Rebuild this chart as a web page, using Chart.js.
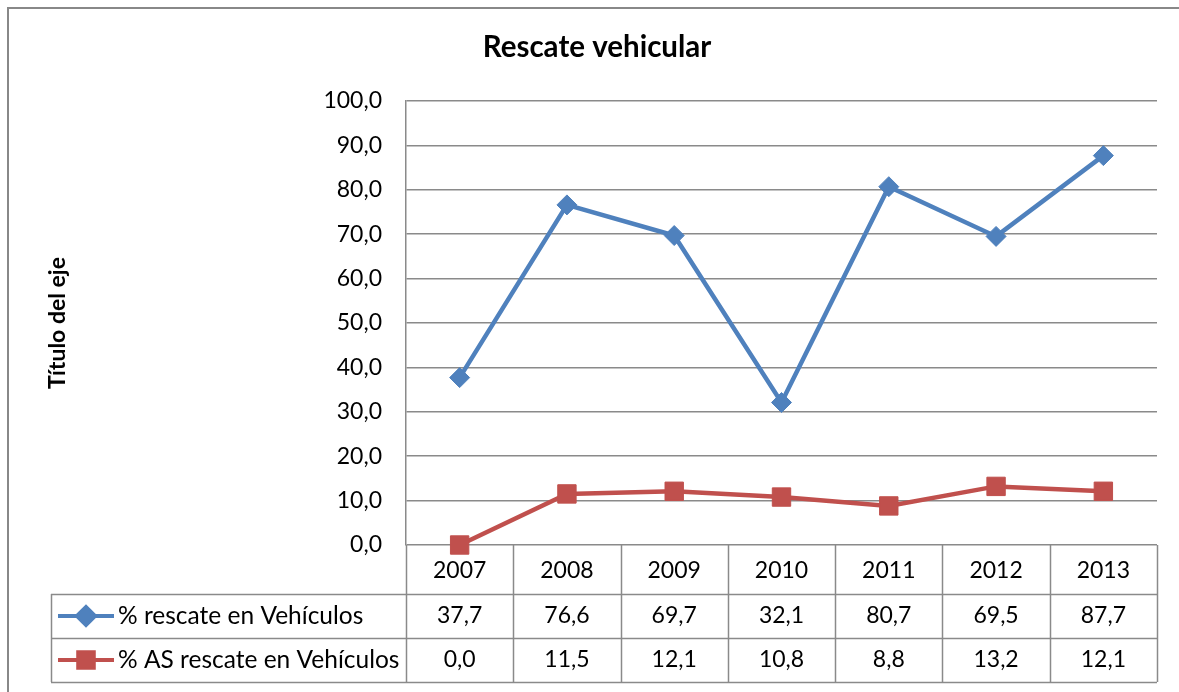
<!DOCTYPE html>
<html lang="es">

<head>
    <meta charset="UTF-8">
    <title>Rescate vehicular</title>
    <script src="https://cdn.jsdelivr.net/npm/chart.js"></script>
    <style>
        body { margin: 0; background: #fff; }
    </style>
</head>

<body>
    <canvas id="myChart" width="1179" height="692"></canvas>
    <script>
        const years = ['2007', '2008', '2009', '2010', '2011', '2012', '2013'];
        const rescate = [37.7, 76.6, 69.7, 32.1, 80.7, 69.5, 87.7];
        const rescateAS = [0.0, 11.5, 12.1, 10.8, 8.8, 13.2, 12.1];
        const seriesNames = ['% rescate en Vehículos', '% AS rescate en Vehículos'];

        const gridColor = '#8a8a8a';
        const fontFamily = 'Lato, "Open Sans", sans-serif';

        function fmt(v) {
            return v.toFixed(1).replace('.', ',');
        }

        // frame + data table under the plot
        const tablePlugin = {
            id: 'dataTable',
            afterDraw(chart) {
                const ctx = chart.ctx;
                const x = chart.scales.x;
                const area = chart.chartArea;
                const colW = (area.right - area.left) / years.length;
                const rows = [area.bottom, 594, 638, 682];
                const tableLeft = 51;

                ctx.save();
                // outer chart frame (cut off at right and bottom)
                ctx.strokeStyle = '#888';
                ctx.lineWidth = 2;
                ctx.beginPath();
                ctx.moveTo(8, chart.height);
                ctx.lineTo(8, 8);
                ctx.lineTo(chart.width, 8);
                ctx.stroke();

                ctx.strokeStyle = gridColor;
                ctx.lineWidth = 1.5;
                ctx.beginPath();
                // column lines
                for (let i = 0; i <= years.length; i++) {
                    const px = Math.round(area.left + i * colW) + 0.5;
                    ctx.moveTo(px, rows[0]);
                    ctx.lineTo(px, rows[3]);
                }
                // row lines
                for (let r = 1; r < rows.length; r++) {
                    ctx.moveTo(tableLeft, rows[r] + 0.5);
                    ctx.lineTo(area.right, rows[r] + 0.5);
                }
                ctx.moveTo(tableLeft + 0.5, rows[1]);
                ctx.lineTo(tableLeft + 0.5, rows[3]);
                ctx.stroke();

                ctx.fillStyle = '#000';
                ctx.font = '23px ' + fontFamily;
                ctx.textAlign = 'center';
                ctx.textBaseline = 'middle';
                years.forEach((y, i) => {
                    const cx = x.getPixelForValue(i);
                    ctx.fillText(y, cx, 571);
                    ctx.fillText(fmt(rescate[i]), cx, 616);
                    ctx.fillText(fmt(rescateAS[i]), cx, 660);
                });

                // legend keys
                ctx.font = '24.5px ' + fontFamily;
                chart.data.datasets.forEach((ds, d) => {
                    const cy = d === 0 ? 616 : 660;
                    ctx.strokeStyle = ds.borderColor;
                    ctx.lineWidth = 4;
                    ctx.beginPath();
                    ctx.moveTo(58, cy);
                    ctx.lineTo(114, cy);
                    ctx.stroke();
                    ctx.fillStyle = ds.borderColor;
                    Chart.helpers.drawPoint(ctx, {
                        pointStyle: ds.pointStyle,
                        radius: d === 0 ? 9 : 11,
                        rotation: 0,
                        borderWidth: 1
                    }, 86, cy);
                    ctx.fill();
                    ctx.fillStyle = '#000';
                    ctx.textAlign = 'left';
                    ctx.fillText(seriesNames[d], 118, cy);
                });
                ctx.restore();
            }
        };

        const ctx = document.getElementById('myChart');
        new Chart(ctx, {
            type: 'line',
            data: {
                labels: years,
                datasets: [{
                    label: seriesNames[0],
                    data: rescate,
                    borderColor: '#4F81BD',
                    backgroundColor: '#4F81BD',
                    borderWidth: 4.5,
                    pointStyle: 'rectRot',
                    pointRadius: 10,
                    pointBorderWidth: 1,
                    fill: false,
                    clip: false,
                    tension: 0
                }, {
                    label: seriesNames[1],
                    data: rescateAS,
                    borderColor: '#C0504D',
                    backgroundColor: '#C0504D',
                    borderWidth: 4.5,
                    pointStyle: 'rect',
                    pointRadius: 13,
                    pointBorderWidth: 1,
                    fill: false,
                    clip: false,
                    tension: 0
                }]
            },
            options: {
                responsive: false,
                animation: false,
                layout: { padding: { left: 37, right: 22, top: 0, bottom: 147 } },
                plugins: {
                    legend: { display: false },
                    tooltip: { enabled: false },
                    title: {
                        display: true,
                        text: 'Rescate vehicular',
                        color: '#000',
                        font: { family: fontFamily, size: 29.5, weight: 'bold', lineHeight: 1.2 },
                        padding: { top: 30, bottom: 35.6 }
                    }
                },
                scales: {
                    x: {
                        display: false,
                        offset: true
                    },
                    y: {
                        min: 0,
                        max: 100,
                        afterFit(axis) { axis.width = 369; },
                        ticks: {
                            stepSize: 10,
                            padding: 24,
                            color: '#000',
                            font: { family: fontFamily, size: 23 },
                            callback: (v) => fmt(v)
                        },
                        grid: { color: gridColor, lineWidth: 1.5, drawTicks: false },
                        border: { display: true, color: gridColor, width: 1.5 },
                        title: {
                            display: true,
                            text: 'Título del eje',
                            color: '#000',
                            font: { family: fontFamily, size: 23, weight: 'bold', lineHeight: 1.2 },
                            padding: { top: 7 }
                        }
                    }
                }
            },
            plugins: [tablePlugin]
        });
    </script>
</body>

</html>
